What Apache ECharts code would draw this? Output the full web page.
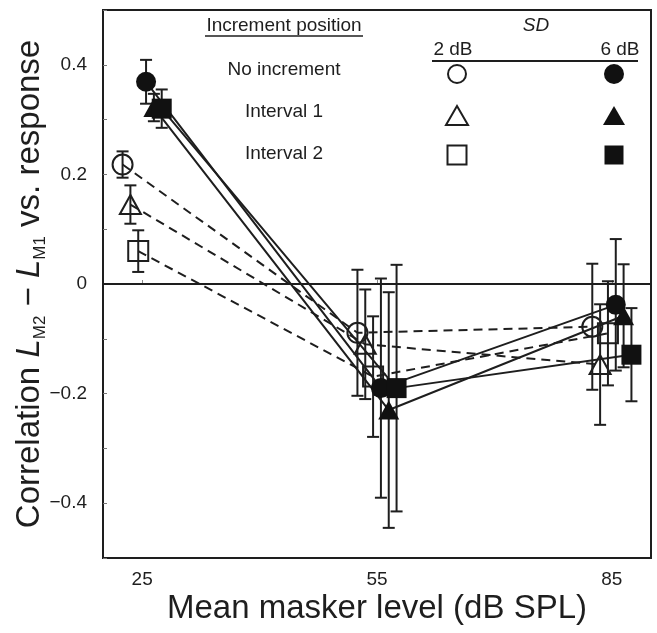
<!DOCTYPE html>
<html>
<head>
<meta charset="utf-8">
<script src="https://cdn.jsdelivr.net/npm/echarts@6/dist/echarts.min.js"></script>
<style>
  html, body { margin: 0; padding: 0; background: #fff; }
  #chart { width: 657px; height: 633px; }
</style>
</head>
<body>
<div id="chart"></div>
<script>
// mean masker levels (dB SPL) and tick labels
const levels = [25, 55, 85];
const xTicks = [25, 55, 85];

// SD = 2 dB (open symbols, dashed)
const noInc2 = [0.218, -0.089, -0.078];
const noInc2Err = [0.024, 0.115, 0.115];
const int1_2 = [0.145, -0.110, -0.147];
const int1_2Err = [0.035, 0.100, 0.110];
const int2_2 = [0.060, -0.169, -0.090];
const int2_2Err = [0.038, 0.110, 0.095];

// SD = 6 dB (filled symbols, solid)
const noInc6 = [0.369, -0.190, -0.038];
const noInc6Err = [0.040, 0.200, 0.120];
const int1_6 = [0.322, -0.230, -0.058];
const int1_6Err = [0.025, 0.215, 0.094];
const int2_6 = [0.320, -0.190, -0.129];
const int2_6Err = [0.035, 0.225, 0.085];

const INK = '#1e1e1e';
const FONT = '"Liberation Sans", Arial, sans-serif';

// each condition is drawn slightly shifted along x so the points don't overlap
const groups = [
  { name: 'No increment 2 dB', vals: noInc2, err: noInc2Err, shift: -2.5, symbol: 'circle', open: true },
  { name: 'Interval 1 2 dB', vals: int1_2, err: int1_2Err, shift: -1.5, symbol: 'triangle', open: true },
  { name: 'Interval 2 2 dB', vals: int2_2, err: int2_2Err, shift: -0.5, symbol: 'rect', open: true },
  { name: 'No increment 6 dB', vals: noInc6, err: noInc6Err, shift: 0.5, symbol: 'circle', open: false },
  { name: 'Interval 1 6 dB', vals: int1_6, err: int1_6Err, shift: 1.5, symbol: 'triangle', open: false },
  { name: 'Interval 2 6 dB', vals: int2_6, err: int2_6Err, shift: 2.5, symbol: 'rect', open: false }
];

const errorBar = function (params, api) {
  const x = api.value(0), y = api.value(1), e = api.value(2);
  const top = api.coord([x, y + e]);
  const bot = api.coord([x, y - e]);
  const cap = 6;
  const st = { stroke: INK, lineWidth: 2 };
  return {
    type: 'group',
    children: [
      { type: 'line', shape: { x1: top[0], y1: top[1], x2: bot[0], y2: bot[1] }, style: st },
      { type: 'line', shape: { x1: top[0] - cap, y1: top[1], x2: top[0] + cap, y2: top[1] }, style: st },
      { type: 'line', shape: { x1: bot[0] - cap, y1: bot[1], x2: bot[0] + cap, y2: bot[1] }, style: st }
    ]
  };
};

const series = [];
groups.forEach(function (g, k) {
  const pts = levels.map(function (lv, i) { return [lv + g.shift, g.vals[i]]; });
  const bars = levels.map(function (lv, i) { return [lv + g.shift, g.vals[i], g.err[i]]; });
  series.push({
    type: 'custom',
    renderItem: errorBar,
    data: bars,
    encode: { x: 0, y: 1 },
    z: 2,
    silent: true
  });
  const s = {
    name: g.name,
    type: 'line',
    data: pts,
    symbol: g.symbol,
    symbolSize: g.symbol === 'triangle' ? [21, 19] : 20,
    showSymbol: true,
    z: 3,
    lineStyle: { color: INK, width: 2, type: g.open ? [9, 6] : 'solid' },
    itemStyle: g.open
      ? { color: 'rgba(0,0,0,0)', borderColor: INK, borderWidth: 2 }
      : { color: '#111', borderColor: '#111', borderWidth: 0 }
  };
  if (k === 0) {
    s.markLine = {
      silent: true,
      symbol: ['none', 'none'],
      label: { show: false },
      lineStyle: { color: INK, width: 2, type: 'solid' },
      data: [{ yAxis: 0 }]
    };
  }
  series.push(s);
});

// legend table drawn as graphics
const tx = function (x, y, text, extra) {
  return {
    type: 'text', x: x, y: y, silent: true,
    style: Object.assign({ text: text, fill: INK, font: '19px ' + FONT, align: 'center', verticalAlign: 'middle' }, extra || {})
  };
};
const sym = { stroke: INK, lineWidth: 2, fill: 'none' };
const symF = { fill: '#111' };
const graphics = [
  tx(284, 26, 'Increment position'),
  { type: 'line', silent: true, shape: { x1: 205, y1: 36, x2: 363, y2: 36 }, style: { stroke: INK, lineWidth: 1.5 } },
  tx(284, 70, 'No increment'),
  tx(284, 112, 'Interval 1'),
  tx(284, 154, 'Interval 2'),
  tx(536, 26, 'SD', { font: 'italic 19px ' + FONT }),
  tx(453, 50, '2 dB'),
  tx(620, 50, '6 dB'),
  { type: 'line', silent: true, shape: { x1: 432, y1: 61, x2: 638, y2: 61 }, style: { stroke: INK, lineWidth: 2 } },
  { type: 'circle', silent: true, shape: { cx: 457, cy: 74, r: 9 }, style: sym },
  { type: 'circle', silent: true, shape: { cx: 614, cy: 74, r: 10 }, style: symF },
  { type: 'polygon', silent: true, shape: { points: [[457, 106], [468, 125], [446, 125]] }, style: sym },
  { type: 'polygon', silent: true, shape: { points: [[614, 106], [625, 125], [603, 125]] }, style: symF },
  { type: 'rect', silent: true, shape: { x: 447.5, y: 145.5, width: 19, height: 19 }, style: sym },
  { type: 'rect', silent: true, shape: { x: 604.5, y: 145.5, width: 19, height: 19 }, style: symF }
];

const chart = echarts.init(document.getElementById('chart'));
chart.setOption({
  animation: false,
  backgroundColor: '#fff',
  textStyle: { fontFamily: FONT },
  grid: {
    left: 103, right: 6, top: 10, bottom: 75,
    containLabel: false, outerBoundsMode: 'none',
    show: true, borderColor: INK, borderWidth: 2, backgroundColor: 'rgba(0,0,0,0)'
  },
  xAxis: {
    type: 'value',
    min: 20,
    max: 90,
    axisLine: { show: false },
    splitLine: { show: false },
    axisTick: { show: true, inside: true, length: 4, customValues: xTicks, lineStyle: { color: '#888' } },
    axisLabel: { customValues: xTicks, fontSize: 19, color: INK, margin: 12, fontFamily: FONT },
    name: 'Mean masker level (dB SPL)',
    nameLocation: 'middle',
    nameGap: 34,
    nameMoveOverlap: false,
    nameTextStyle: { fontSize: 33, color: INK, fontFamily: FONT }
  },
  yAxis: {
    type: 'value',
    min: -0.5,
    max: 0.5,
    interval: 0.1,
    axisLine: { show: false },
    splitLine: { show: false },
    axisTick: { show: true, inside: true, length: 4, lineStyle: { color: '#777' } },
    axisLabel: {
      fontSize: 19, color: INK, margin: 16, fontFamily: FONT,
      formatter: function (v) {
        const t = Math.round(v * 10);
        if (t % 2 !== 0 || Math.abs(t) >= 5) return '';
        if (t === 0) return '0';
        return (t < 0 ? '\u2212' : '') + (Math.abs(t) / 10).toFixed(1);
      }
    },
    name: '{n|Correlation }{i|L}{s|M2}{n| \u2212 }{i|L}{s|M1}{n| vs. response}',
    nameLocation: 'middle',
    nameGap: 54,
    nameMoveOverlap: false,
    nameTextStyle: {
      color: INK,
      fontFamily: FONT,
      rich: {
        n: { fontSize: 33, color: INK, fontFamily: FONT, lineHeight: 38 },
        i: { fontSize: 33, color: INK, fontFamily: FONT, fontStyle: 'italic', lineHeight: 38 },
        s: { fontSize: 17, color: INK, fontFamily: FONT, lineHeight: 38, verticalAlign: 'bottom', padding: [8, 0, 0, 0] }
      }
    }
  },
  graphic: graphics,
  series: series
});
</script>
</body>
</html>
